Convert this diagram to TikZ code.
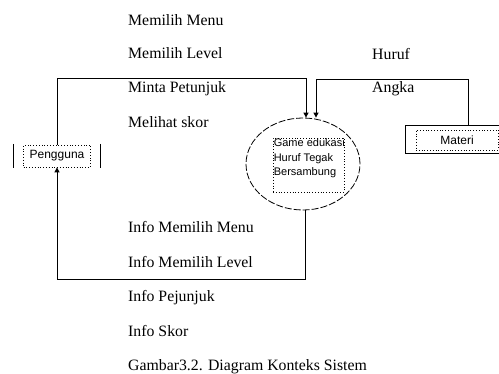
\documentclass[tikz,border=0pt]{standalone}
\usepackage{fontspec}
\setmainfont{Liberation Serif}
\newfontfamily\boxfont{Liberation Sans}
\usetikzlibrary{arrows.meta,shapes.geometric,positioning}
\tikzset{
  line/.style={line width=1pt},
  flow/.style={line width=1pt,-{Triangle[width=5pt,length=5pt]}},
  flowtext/.style={anchor=base west,inner sep=0pt,font=\fontsize{15.8}{18}\selectfont},
  dotbox/.style={draw,dotted,line width=0.8pt,inner sep=0pt},
}
\begin{document}
\begin{tikzpicture}[x=1pt,y=-1pt]
\useasboundingbox (0,0) rectangle (499,374);
% entitas dan proses
\node[minimum width=86pt,minimum height=24pt,inner sep=0pt,font=\boxfont\fontsize{12}{14}\selectfont] (pengguna) at (57,156) {Pengguna};
\draw[line] (pengguna.north west) -- (pengguna.south west);
\draw[line] (pengguna.north east) -- (pengguna.south east);
\node[dotbox,minimum width=67pt,minimum height=22pt] (penggunabox) at (pengguna) {};
\node[ellipse,draw,line width=0.8pt,dash pattern=on 7pt off 2pt,minimum width=114pt,minimum height=92pt,inner sep=0pt] (game) at (303,164) {};
\node[dotbox,minimum width=71pt,minimum height=54pt] (gamebox) at (308.5,165) {};
\node[anchor=north west,align=left,inner sep=1pt,font=\boxfont\fontsize{11}{14.5}\selectfont] (gametext) at (gamebox.north west) {Game edukasi\\Huruf Tegak\\Bersambung};
\node[draw,line,minimum width=95pt,minimum height=28pt] (materi) at (452.5,140) {};
\node[dotbox,minimum width=82pt,minimum height=20pt,font=\boxfont\fontsize{12}{14}\selectfont] (materibox) at (457,140) {Materi};
% aliran data
\coordinate (inA) at (306,79);
\coordinate (inB) at (316,80);
\coordinate (outC) at (305,280);
\draw[flow] (penggunabox.north) |- (inA) -- (inA |- game.north);
\draw[flow] ([xshift=15.5pt]materi.north) |- (inB) -- (inB |- game.north);
\draw[flow] (game.south -| outC) -- (outC) -| (penggunabox.south);
% label
\node[flowtext] (pilihMenu) at (128,26) {Memilih Menu};
\node[flowtext] (pilihLevel) at (128,59) {Memilih Level};
\node[flowtext] (mintaPetunjuk) at (128,93) {Minta Petunjuk};
\node[flowtext] (lihatSkor) at (128,128) {Melihat skor};
\node[flowtext] (huruf) at (372,60) {Huruf};
\node[flowtext] (angka) at (372,93) {Angka};
\node[flowtext] (infoMenu) at (128,233) {Info Memilih Menu};
\node[flowtext] (infoLevel) at (128,268) {Info Memilih Level};
\node[flowtext] (infoPetunjuk) at (128,302) {Info Pejunjuk};
\node[flowtext] (infoSkor) at (128,337) {Info Skor};
\node[flowtext] (caption) at (128,371) {Gambar3.2. Diagram Konteks Sistem};
\end{tikzpicture}
\end{document}
